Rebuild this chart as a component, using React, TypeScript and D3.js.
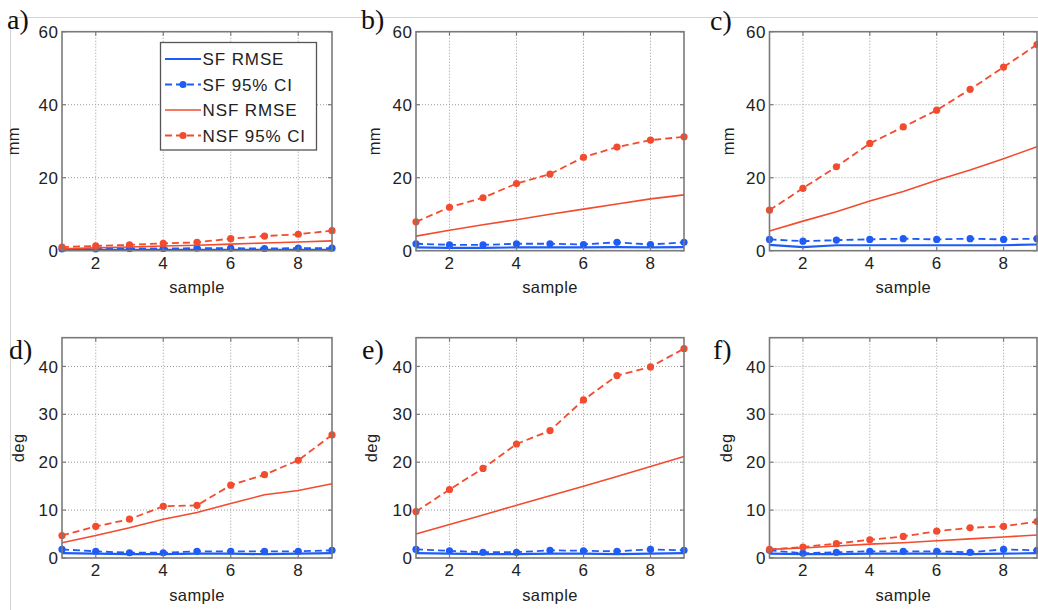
import React from "react";
import * as d3 from "d3";

const samples = [1, 2, 3, 4, 5, 6, 7, 8, 9];
const xTicks = [2, 4, 6, 8];
const yTicksTop = [0, 20, 40, 60];
const yTicksBottom = [0, 10, 20, 30, 40];
const seriesNames = ["SF RMSE", "SF 95% CI", "NSF RMSE", "NSF 95% CI"];

const aSfRmse = [0.2, 0.2, 0.2, 0.2, 0.2, 0.2, 0.2, 0.2, 0.2];
const aSfCi = [0.5, 0.5, 0.6, 0.6, 0.7, 0.7, 0.6, 0.7, 0.7];
const aNsfRmse = [0.5, 0.8, 1.0, 1.3, 1.5, 1.8, 2.1, 2.4, 2.7];
const aNsfCi = [1.0, 1.3, 1.6, 2.0, 2.3, 3.3, 4.0, 4.5, 5.5];

const bSfRmse = [0.9, 0.8, 0.8, 0.9, 0.9, 0.9, 1.0, 0.9, 1.0];
const bSfCi = [1.9, 1.6, 1.6, 1.9, 1.9, 1.7, 2.3, 1.7, 2.3];
const bNsfRmse = [4.0, 5.6, 7.1, 8.5, 10.0, 11.4, 12.8, 14.2, 15.3];
const bNsfCi = [7.9, 11.9, 14.5, 18.4, 21.0, 25.6, 28.4, 30.3, 31.2];

const cSfRmse = [1.6, 1.0, 1.5, 1.5, 1.5, 1.5, 1.5, 1.5, 1.7];
const cSfCi = [3.1, 2.6, 2.9, 3.1, 3.3, 3.1, 3.3, 3.1, 3.3];
const cNsfRmse = [5.4, 8.1, 10.7, 13.6, 16.2, 19.3, 22.1, 25.2, 28.5];
const cNsfCi = [11.1, 17.1, 23.0, 29.4, 33.9, 38.5, 44.2, 50.3, 56.5];

const dSfRmse = [1.0, 0.9, 0.8, 0.8, 0.9, 0.9, 0.8, 0.9, 1.0];
const dSfCi = [1.8, 1.4, 1.1, 1.1, 1.4, 1.4, 1.4, 1.4, 1.6];
const dNsfRmse = [3.2, 4.7, 6.3, 8.1, 9.5, 11.4, 13.2, 14.1, 15.5];
const dNsfCi = [4.7, 6.6, 8.1, 10.8, 11.0, 15.2, 17.4, 20.4, 25.7];

const eSfRmse = [1.0, 0.9, 0.8, 0.8, 0.9, 0.9, 0.8, 0.9, 1.0];
const eSfCi = [1.8, 1.5, 1.2, 1.2, 1.6, 1.5, 1.4, 1.8, 1.6];
const eNsfRmse = [5.0, 7.0, 9.0, 11.0, 13.0, 15.0, 17.0, 19.1, 21.2];
const eNsfCi = [9.7, 14.3, 18.7, 23.8, 26.6, 33.0, 38.1, 39.9, 43.7];

const fSfRmse = [0.9, 0.8, 0.8, 0.9, 0.9, 0.9, 0.8, 0.9, 1.0];
const fSfCi = [1.6, 1.0, 1.2, 1.4, 1.4, 1.4, 1.2, 1.8, 1.6];
const fNsfRmse = [1.8, 2.1, 2.5, 2.9, 3.2, 3.6, 4.0, 4.4, 4.8];
const fNsfCi = [1.8, 2.3, 3.0, 3.8, 4.5, 5.6, 6.3, 6.6, 7.6];

const BLUE = "#1f5cf6";
const RED = "#f24b2e";
const FONT = "'Liberation Sans', Arial, Helvetica, sans-serif";

type Panel = {
  label: string;
  x0: number; x1: number; y0: number; y1: number;
  ymax: number; yTicks: number[]; ylabel: string; ylabX: number;
  labX: number; labY: number;
  sfRmse: number[]; sfCi: number[]; nsfRmse: number[]; nsfCi: number[];
  legend?: boolean;
};

const panels: Panel[] = [
  { label: "a)", x0: 62, x1: 332, y0: 31.7, y1: 250.7, ymax: 60, yTicks: yTicksTop, ylabel: "mm", ylabX: 18.5, labX: 7, labY: 29, sfRmse: aSfRmse, sfCi: aSfCi, nsfRmse: aNsfRmse, nsfCi: aNsfCi, legend: true },
  { label: "b)", x0: 416, x1: 684, y0: 31.7, y1: 250.7, ymax: 60, yTicks: yTicksTop, ylabel: "mm", ylabX: 380, labX: 361, labY: 29, sfRmse: bSfRmse, sfCi: bSfCi, nsfRmse: bNsfRmse, nsfCi: bNsfCi },
  { label: "c)", x0: 769.5, x1: 1037, y0: 31.7, y1: 250.7, ymax: 60, yTicks: yTicksTop, ylabel: "mm", ylabX: 733.5, labX: 710, labY: 30, sfRmse: cSfRmse, sfCi: cSfCi, nsfRmse: cNsfRmse, nsfCi: cNsfCi },
  { label: "d)", x0: 62, x1: 332, y0: 337.7, y1: 558, ymax: 46, yTicks: yTicksBottom, ylabel: "deg", ylabX: 24, labX: 9, labY: 359, sfRmse: dSfRmse, sfCi: dSfCi, nsfRmse: dNsfRmse, nsfCi: dNsfCi },
  { label: "e)", x0: 416, x1: 684, y0: 337.7, y1: 558, ymax: 46, yTicks: yTicksBottom, ylabel: "deg", ylabX: 377, labX: 362, labY: 359, sfRmse: eSfRmse, sfCi: eSfCi, nsfRmse: eNsfRmse, nsfCi: eNsfCi },
  { label: "f)", x0: 769.5, x1: 1037, y0: 337.7, y1: 558, ymax: 46, yTicks: yTicksBottom, ylabel: "deg", ylabX: 732, labX: 713, labY: 359, sfRmse: fSfRmse, sfCi: fSfCi, nsfRmse: fNsfRmse, nsfCi: fNsfCi },
];

function PanelView({ p }: { p: Panel }) {
  const x = d3.scaleLinear().domain([1, 9]).range([p.x0, p.x1]);
  const y = d3.scaleLinear().domain([0, p.ymax]).range([p.y1, p.y0]);
  const line = d3.line<number>().x((_, i) => x(samples[i])).y((v) => y(v));
  const midX = (p.x0 + p.x1) / 2;
  const midY = (p.y0 + p.y1) / 2;
  const series = [
    { vals: p.sfRmse, color: BLUE, dash: undefined, w: 2.2, markers: false },
    { vals: p.sfCi, color: BLUE, dash: "7,4", w: 1.8, markers: true },
    { vals: p.nsfRmse, color: RED, dash: undefined, w: 1.6, markers: false },
    { vals: p.nsfCi, color: RED, dash: "7,4", w: 1.8, markers: true },
  ];
  return (
    <g>
      {/* grid */}
      {xTicks.map((t) => (
        <line key={"gx" + t} x1={x(t)} x2={x(t)} y1={p.y0} y2={p.y1} stroke="#9a9a9a" strokeWidth={1} strokeDasharray="1,2" />
      ))}
      {p.yTicks.filter((t) => t > 0).map((t) => (
        <line key={"gy" + t} x1={p.x0} x2={p.x1} y1={y(t)} y2={y(t)} stroke="#9a9a9a" strokeWidth={1} strokeDasharray="1,2" />
      ))}
      {/* series */}
      {series.map((s, si) => (
        <g key={si}>
          <path d={line(s.vals) || ""} fill="none" stroke={s.color} strokeWidth={s.w} strokeDasharray={s.dash} />
          {s.markers && s.vals.map((v, i) => (
            <circle key={i} cx={x(samples[i])} cy={y(v)} r={3.6} fill={s.color} />
          ))}
        </g>
      ))}
      {/* box */}
      <rect x={p.x0} y={p.y0} width={p.x1 - p.x0} height={p.y1 - p.y0} fill="none" stroke="#7a7a7a" strokeWidth={1.6} />
      {/* ticks */}
      {xTicks.map((t) => (
        <g key={"tx" + t}>
          <line x1={x(t)} x2={x(t)} y1={p.y1} y2={p.y1 - 4} stroke="#7a7a7a" strokeWidth={1.2} />
          <line x1={x(t)} x2={x(t)} y1={p.y0} y2={p.y0 + 4} stroke="#7a7a7a" strokeWidth={1.2} />
          <text x={x(t)} y={p.y1 + 18} textAnchor="middle" fontSize={17} fill="#222" fontFamily={FONT} letterSpacing={0.6}>{t}</text>
        </g>
      ))}
      {p.yTicks.map((t) => (
        <g key={"ty" + t}>
          <line x1={p.x0} x2={p.x0 + 4} y1={y(t)} y2={y(t)} stroke="#7a7a7a" strokeWidth={1.2} />
          <line x1={p.x1} x2={p.x1 - 4} y1={y(t)} y2={y(t)} stroke="#7a7a7a" strokeWidth={1.2} />
          <text x={p.x0 - 3.5} y={y(t)} dy="0.36em" textAnchor="end" fontSize={17} fill="#222" fontFamily={FONT} letterSpacing={0.6}>{t}</text>
        </g>
      ))}
      {/* axis labels */}
      <text x={midX} y={p.y1 + 42.5} textAnchor="middle" fontSize={16.5} fill="#222" fontFamily={FONT} letterSpacing={0.4}>sample</text>
      <text transform={`translate(${p.ylabX},${midY}) rotate(-90)`} textAnchor="middle" fontSize={16.5} fill="#222" fontFamily={FONT} letterSpacing={0.4}>{p.ylabel}</text>
      {/* panel label */}
      <text x={p.labX} y={p.labY} fontSize={28} fill="#111" fontFamily="'Liberation Serif', 'Times New Roman', serif">{p.label}</text>
      {p.legend && <Legend />}
    </g>
  );
}

function Legend() {
  const lx0 = 160.5, ly0 = 42.5, lw = 156, lh = 107.5;
  const rowY = d3.scalePoint<string>().domain(seriesNames).range([59, 135.5]);
  const styles = [
    { color: BLUE, dash: undefined, w: 2.2, marker: false },
    { color: BLUE, dash: "7,4", w: 1.8, marker: true },
    { color: RED, dash: undefined, w: 1.6, marker: false },
    { color: RED, dash: "7,4", w: 1.8, marker: true },
  ];
  return (
    <g>
      <rect x={lx0} y={ly0} width={lw} height={lh} fill="#fff" stroke="#555" strokeWidth={1.3} />
      {seriesNames.map((n, i) => {
        const yy = rowY(n) as number;
        const s = styles[i];
        return (
          <g key={n}>
            <line x1={165} x2={201} y1={yy} y2={yy} stroke={s.color} strokeWidth={s.w} strokeDasharray={s.dash} />
            {s.marker && <circle cx={183} cy={yy} r={3.6} fill={s.color} />}
            <text x={202.5} y={yy} dy="0.36em" fontSize={17} fill="#222" fontFamily={FONT} letterSpacing={0.9}>{n}</text>
          </g>
        );
      })}
    </g>
  );
}

export default function App() {
  return (
    <svg width={1038} height={610} style={{ position: "absolute", left: 0, top: 0, background: "#fff" }}>
      <rect x={0} y={0} width={1038} height={610} fill="#fff" />
      <line x1={10} x2={1038} y1={17.5} y2={17.5} stroke="#d4d4d4" strokeWidth={1} />
      <line x1={10.5} x2={10.5} y1={17} y2={610} stroke="#d4d4d4" strokeWidth={1} />
      {panels.map((p) => (
        <PanelView key={p.label} p={p} />
      ))}
    </svg>
  );
}
